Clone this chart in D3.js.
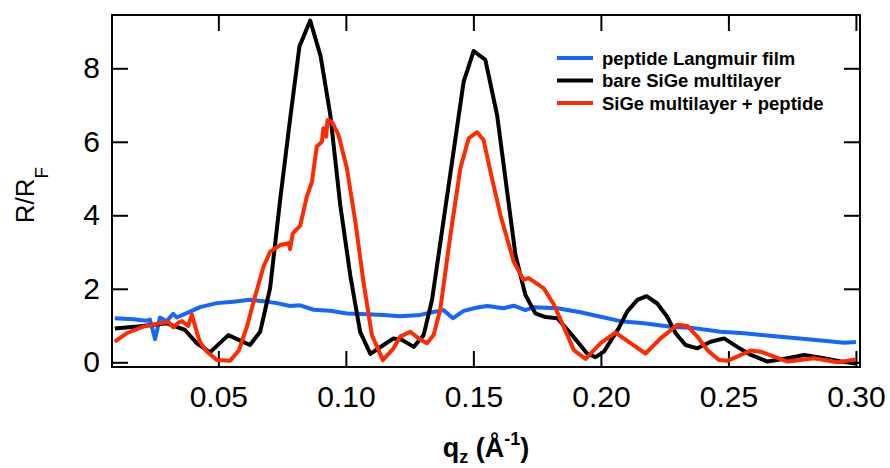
<!DOCTYPE html>
<html>
<head>
<meta charset="utf-8">
<script src="https://cdn.jsdelivr.net/npm/d3@7"></script>
<style>
  body { margin: 0; background: #fff; }
  svg { display: block; font-family: "Liberation Sans", Arial, sans-serif; }
</style>
</head>
<body>
<svg id="chart"></svg>
<script>
// reflectivity normalised to Fresnel
const seriesNames = ["peptide Langmuir film", "bare SiGe multilayer", "SiGe multilayer + peptide"];
const seriesColors = ["#1466ff", "#000000", "#ff2a00"];

const xTicks = [0.05, 0.10, 0.15, 0.20, 0.25, 0.30];
const yTicks = [0, 2, 4, 6, 8];

// peptide Langmuir film
const filmQ = [0.0094, 0.0166, 0.0219, 0.0232, 0.0252, 0.0271, 0.0297, 0.0323, 0.0337, 0.0376,
  0.0428, 0.0494, 0.0559, 0.0624, 0.0677, 0.0729, 0.0781, 0.0821, 0.0873, 0.0939,
  0.1004, 0.1083, 0.1148, 0.1213, 0.1292, 0.1344, 0.1383, 0.142, 0.1462, 0.1515,
  0.1554, 0.1619, 0.1658, 0.1704, 0.1737, 0.1829, 0.192, 0.1999, 0.2077, 0.2169,
  0.2273, 0.2365, 0.247, 0.2561, 0.2692, 0.2823, 0.2954, 0.300];
const filmR = [1.20, 1.17, 1.13, 1.16, 0.63, 1.22, 1.12, 1.32, 1.22, 1.34,
  1.50, 1.61, 1.65, 1.70, 1.66, 1.61, 1.53, 1.55, 1.43, 1.40,
  1.33, 1.31, 1.29, 1.25, 1.29, 1.37, 1.42, 1.20, 1.40, 1.49,
  1.53, 1.47, 1.54, 1.42, 1.50, 1.47, 1.36, 1.24, 1.12, 1.06,
  0.97, 0.93, 0.83, 0.79, 0.70, 0.62, 0.53, 0.55];

// bare SiGe multilayer
const bareQ = [0.0094, 0.0193, 0.0297, 0.0323, 0.0369, 0.0415, 0.0467, 0.0539, 0.0624, 0.0664,
  0.0703, 0.0742, 0.0781, 0.0818, 0.086, 0.0901, 0.0939, 0.0978, 0.1017, 0.1056,
  0.1096, 0.1148, 0.1187, 0.122, 0.1266, 0.1305, 0.1338, 0.1462, 0.1501, 0.1547,
  0.1593, 0.1665, 0.1704, 0.1743, 0.1783, 0.1829, 0.1881, 0.1946, 0.1979, 0.2012,
  0.207, 0.2103, 0.2143, 0.2179, 0.2221, 0.226, 0.2293, 0.2332, 0.2378, 0.243,
  0.2483, 0.2535, 0.2588, 0.2653, 0.2732, 0.2797, 0.2875, 0.2941, 0.300];
const bareR = [0.92, 0.98, 1.06, 1.00, 0.88, 0.52, 0.27, 0.74, 0.47, 0.83,
  2.02, 4.40, 6.60, 8.59, 9.30, 8.33, 6.73, 4.28, 2.38, 0.83,
  0.23, 0.47, 0.65, 0.61, 0.42, 0.74, 1.70, 7.64, 8.47, 8.23,
  6.73, 2.92, 1.83, 1.33, 1.23, 1.20, 0.79, 0.24, 0.14, 0.29,
  0.93, 1.38, 1.70, 1.80, 1.60, 1.24, 0.79, 0.47, 0.38, 0.56,
  0.65, 0.42, 0.20, 0.02, 0.11, 0.20, 0.11, 0.02, -0.03];

// SiGe multilayer + peptide
const coatedQ = [0.0094, 0.014, 0.0206, 0.0271, 0.0304, 0.0323, 0.0343, 0.0357, 0.0382, 0.0396,
  0.0415, 0.0428, 0.0454, 0.0494, 0.0546, 0.0581, 0.0612, 0.0637, 0.0677, 0.0703,
  0.0742, 0.0775, 0.0781, 0.0792, 0.0821, 0.0847, 0.0867, 0.0886, 0.0906, 0.0912,
  0.0923, 0.0928, 0.0945, 0.0971, 0.1004, 0.1037, 0.1069, 0.1102, 0.1145, 0.1187,
  0.1213, 0.1253, 0.1285, 0.1318, 0.1344, 0.137, 0.141, 0.1449, 0.1482, 0.1515,
  0.154, 0.1567, 0.1606, 0.1658, 0.1697, 0.1717, 0.1776, 0.1815, 0.1854, 0.1894,
  0.194, 0.1999, 0.2057, 0.2116, 0.2175, 0.2234, 0.23, 0.2339, 0.2378, 0.2418,
  0.2463, 0.2496, 0.2588, 0.2627, 0.2732, 0.2836, 0.2928, 0.300];
const coatedR = [0.56, 0.79, 0.97, 1.06, 1.10, 0.95, 1.08, 1.12, 0.99, 1.30,
  0.83, 0.55, 0.30, 0.06, 0.04, 0.33, 0.97, 1.62, 2.60, 3.01,
  3.19, 3.24, 3.08, 3.51, 3.72, 4.51, 4.91, 5.87, 6.00, 6.37,
  6.14, 6.59, 6.55, 6.19, 5.28, 3.83, 2.19, 0.74, 0.06, 0.38,
  0.70, 0.83, 0.65, 0.52, 0.74, 1.43, 3.46, 5.28, 6.10, 6.26,
  6.05, 5.19, 4.01, 2.74, 2.24, 2.29, 2.01, 1.58, 0.97, 0.33,
  0.09, 0.52, 0.81, 0.52, 0.24, 0.65, 1.02, 0.99, 0.70, 0.33,
  0.06, 0.04, 0.32, 0.29, 0.02, 0.11, 0.00, 0.08];

const width = 890, height = 468;
const margin = { top: 15, right: 30, bottom: 101, left: 112 };

function drawChart() {
  const svg = d3.select("#chart")
    .attr("width", width)
    .attr("height", height);

  const x = d3.scaleLinear()
    .domain([0.0083, 0.3016])
    .range([margin.left, width - margin.right]);

  const y = d3.scaleLinear()
    .domain([-0.128, 9.45])
    .range([height - margin.bottom, margin.top]);

  const tickLen = 16;

  // bottom axis
  const xAxis = svg.append("g")
    .attr("transform", `translate(0,${height - margin.bottom})`)
    .call(d3.axisBottom(x).tickValues(xTicks).tickFormat(d3.format(".2f"))
      .tickSizeInner(-tickLen).tickSizeOuter(0).tickPadding(19));
  // top axis (ticks only)
  const xTop = svg.append("g")
    .attr("transform", `translate(0,${margin.top})`)
    .call(d3.axisTop(x).tickValues(xTicks).tickFormat("")
      .tickSizeInner(-tickLen).tickSizeOuter(0));
  // left axis
  const yAxis = svg.append("g")
    .attr("transform", `translate(${margin.left},0)`)
    .call(d3.axisLeft(y).tickValues(yTicks).tickFormat(d3.format("d"))
      .tickSizeInner(-tickLen).tickSizeOuter(0).tickPadding(12));
  // right axis (ticks only)
  const yRight = svg.append("g")
    .attr("transform", `translate(${width - margin.right},0)`)
    .call(d3.axisRight(y).tickValues(yTicks).tickFormat("")
      .tickSizeInner(-tickLen).tickSizeOuter(0));

  [xAxis, xTop, yAxis, yRight].forEach(g => {
    g.select(".domain").remove();
    g.selectAll(".tick line").attr("stroke", "#000").attr("stroke-width", 2);
    g.selectAll(".tick text")
      .attr("fill", "#000")
      .attr("font-size", 30)
      .attr("font-family", "Liberation Sans, Arial, sans-serif");
  });

  // frame
  svg.append("rect")
    .attr("x", margin.left)
    .attr("y", margin.top)
    .attr("width", width - margin.left - margin.right)
    .attr("height", height - margin.top - margin.bottom)
    .attr("fill", "none")
    .attr("stroke", "#000")
    .attr("stroke-width", 2);

  const line = d3.line()
    .x(d => x(d[0]))
    .y(d => y(d[1]));

  const series = [
    d3.zip(filmQ, filmR),
    d3.zip(bareQ, bareR),
    d3.zip(coatedQ, coatedR)
  ];

  svg.append("g")
    .selectAll("path")
    .data(series)
    .join("path")
    .attr("d", line)
    .attr("fill", "none")
    .attr("stroke", (d, i) => seriesColors[i])
    .attr("stroke-width", 4)
    .attr("stroke-linejoin", "round");

  // legend
  const legend = svg.append("g").attr("transform", "translate(557,58)");
  const rows = legend.selectAll("g")
    .data(seriesNames)
    .join("g")
    .attr("transform", (d, i) => `translate(0,${i * 22.5})`);
  rows.append("line")
    .attr("x1", 0).attr("x2", 36)
    .attr("stroke", (d, i) => seriesColors[i])
    .attr("stroke-width", 4);
  rows.append("text")
    .attr("x", 45)
    .attr("dy", "0.36em")
    .attr("font-size", 18.5)
    .attr("font-weight", "bold")
    .text(d => d);

  // axis titles
  const xTitle = svg.append("text")
    .attr("x", 486)
    .attr("y", 457)
    .attr("text-anchor", "middle")
    .attr("font-size", 27)
    .attr("font-weight", "bold");
  xTitle.append("tspan").text("q");
  xTitle.append("tspan").attr("font-size", 18).attr("dy", 6).text("z");
  xTitle.append("tspan").attr("dy", -6).text(" (Å");
  xTitle.append("tspan").attr("font-size", 18).attr("dy", -12).text("-1");
  xTitle.append("tspan").attr("dy", 12).text(")");

  const yTitle = svg.append("text")
    .attr("transform", "translate(34,195) rotate(-90)")
    .attr("text-anchor", "middle")
    .attr("font-size", 26);
  yTitle.append("tspan").text("R/R");
  yTitle.append("tspan").attr("font-size", 19).attr("dy", 14).text("F");
}

drawChart();
</script>
</body>
</html>
